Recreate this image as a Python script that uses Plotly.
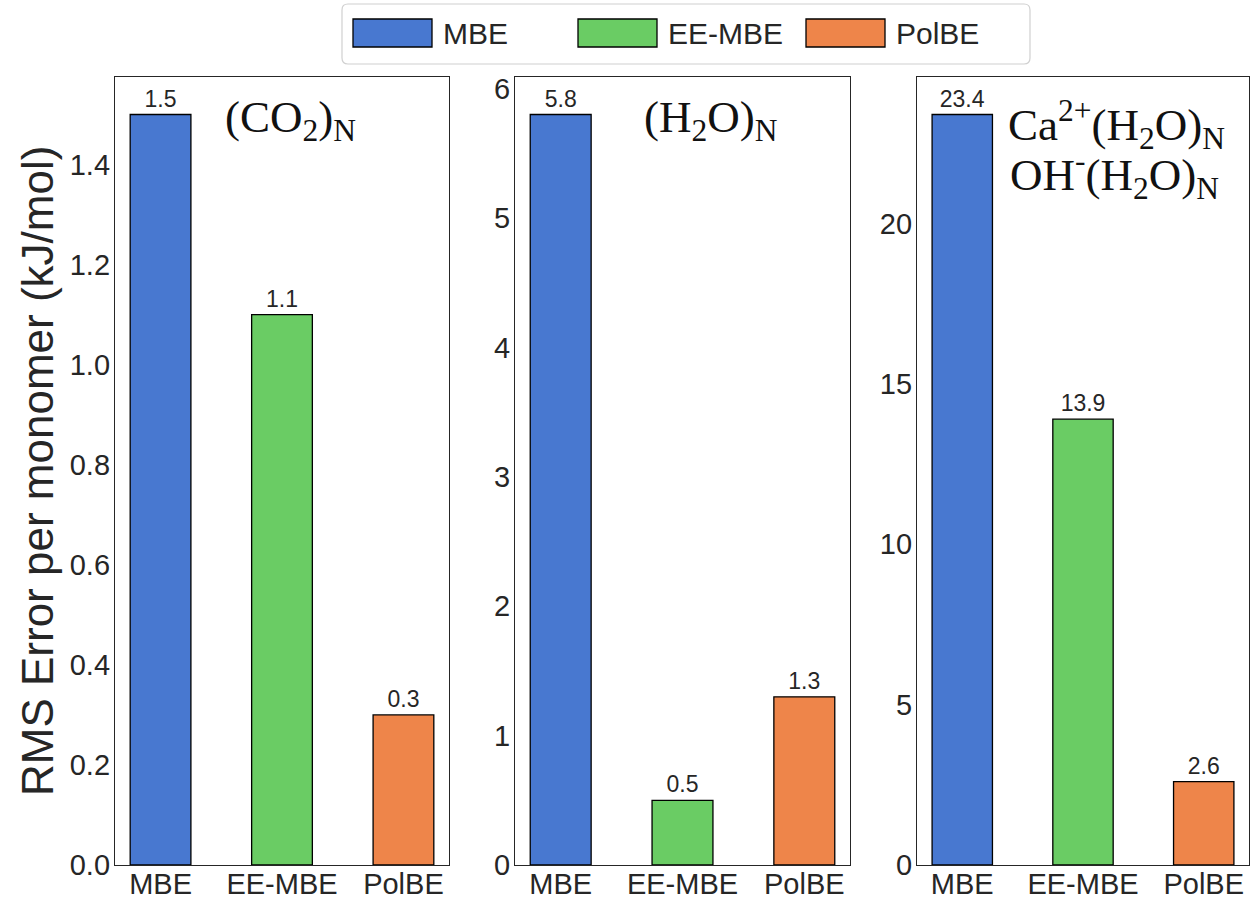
import plotly.graph_objects as go

# ---- data ----
methods = ["MBE", "EE-MBE", "PolBE"]
co2_rms = [1.5, 1.1, 0.3]
h2o_rms = [5.8, 0.5, 1.3]
ion_rms = [23.4, 13.9, 2.6]
panel_labels = [
    ["(CO<sub>2</sub>)<sub>N</sub>"],
    ["(H<sub>2</sub>O)<sub>N</sub>"],
    ["Ca<sup>2+</sup>(H<sub>2</sub>O)<sub>N</sub>", "OH<sup>-</sup>(H<sub>2</sub>O)<sub>N</sub>"],
]
y_tick_steps = [0.2, 1, 5]
y_tick_formats = [".1f", "d", "d"]
colors = ["#4878d0", "#6acc64", "#ee854a"]

W, H = 1251, 901
INK = "#262626"


def px(x):
    return x / W


def py(y):
    return 1 - y / H


# pixel extents of the three axes boxes
panel_x = [(115, 449), (515, 850), (917, 1249)]
panel_top, panel_bottom = 77, 865

series = [co2_rms, h2o_rms, ion_rms]

fig = go.Figure()
for i, vals in enumerate(series):
    ax = "" if i == 0 else str(i + 1)
    fig.add_trace(go.Bar(
        x=methods, y=vals, width=0.5,
        marker=dict(color=colors, line=dict(color="black", width=1.3)),
        texttemplate="%{y:.1f}", textposition="outside",
        textfont=dict(size=23, color=INK, family="Liberation Sans, Arial"),
        constraintext="none", cliponaxis=False,
        showlegend=False, hoverinfo="skip",
        xaxis="x" + ax, yaxis="y" + ax,
    ))
    x0, x1 = panel_x[i]
    axis_common = dict(
        showline=True, mirror=True, linecolor=INK, linewidth=1.3,
        showgrid=False, zeroline=False, automargin=False, ticks="",
        tickfont=dict(size=29, color=INK, family="Liberation Sans, Arial"),
    )
    fig.layout["xaxis" + ax] = dict(
        axis_common,
        domain=[px(x0), px(x1)], anchor="y" + ax,
        range=[-0.375, 2.375], ticklabelstandoff=-7,
    )
    fig.layout["yaxis" + ax] = dict(
        axis_common,
        domain=[py(panel_bottom), py(panel_top)], anchor="x" + ax,
        range=[0, max(vals) * 1.05], dtick=y_tick_steps[i],
        tickformat=y_tick_formats[i], ticklabelstandoff=-2,
    )

# system labels inside each panel
label_pos = [[(290, 120)], [(711, 120)], [(1116, 124), (1114, 174)]]
for labels, positions in zip(panel_labels, label_pos):
    for text, (lx, ly) in zip(labels, positions):
        fig.add_annotation(
            x=px(lx), y=py(ly), xref="paper", yref="paper",
            text=text, showarrow=False, xanchor="center", yanchor="middle",
            font=dict(size=45, color="#111", family="Liberation Serif, Times New Roman, serif"),
        )

# shared y-axis title
fig.add_annotation(
    x=px(37), y=py((panel_top + panel_bottom) / 2), xref="paper", yref="paper",
    text="RMS Error per monomer (kJ/mol)", textangle=-90, showarrow=False,
    xanchor="center", yanchor="middle",
    font=dict(size=44, color=INK, family="Liberation Sans, Arial"),
)

# legend box with wide swatches
lx0, lx1, ly0, ly1 = 342, 1030, 4, 64
r = 6
fig.add_shape(
    type="path", xref="paper", yref="paper",
    path=(f"M {px(lx0 + r)},{py(ly0)} L {px(lx1 - r)},{py(ly0)} "
          f"Q {px(lx1)},{py(ly0)} {px(lx1)},{py(ly0 + r)} "
          f"L {px(lx1)},{py(ly1 - r)} Q {px(lx1)},{py(ly1)} {px(lx1 - r)},{py(ly1)} "
          f"L {px(lx0 + r)},{py(ly1)} Q {px(lx0)},{py(ly1)} {px(lx0)},{py(ly1 - r)} "
          f"L {px(lx0)},{py(ly0 + r)} Q {px(lx0)},{py(ly0)} {px(lx0 + r)},{py(ly0)} Z"),
    line=dict(color="#d0d0d0", width=1.2), fillcolor="white",
)
swatch_x = [353, 578, 806]
for name, col, sx in zip(methods, colors, swatch_x):
    fig.add_shape(
        type="rect", xref="paper", yref="paper",
        x0=px(sx), x1=px(sx + 79), y0=py(47), y1=py(19),
        fillcolor=col, line=dict(color="black", width=1.3),
    )
    fig.add_annotation(
        x=px(sx + 88), y=py(34), xref="paper", yref="paper",
        text=name, showarrow=False, xanchor="left", yanchor="middle",
        font=dict(size=30, color=INK, family="Liberation Sans, Arial"),
    )

fig.update_layout(
    width=W, height=H,
    margin=dict(l=0, r=0, t=0, b=0),
    paper_bgcolor="white", plot_bgcolor="white",
    showlegend=False,
)

fig.write_html("out.html")
